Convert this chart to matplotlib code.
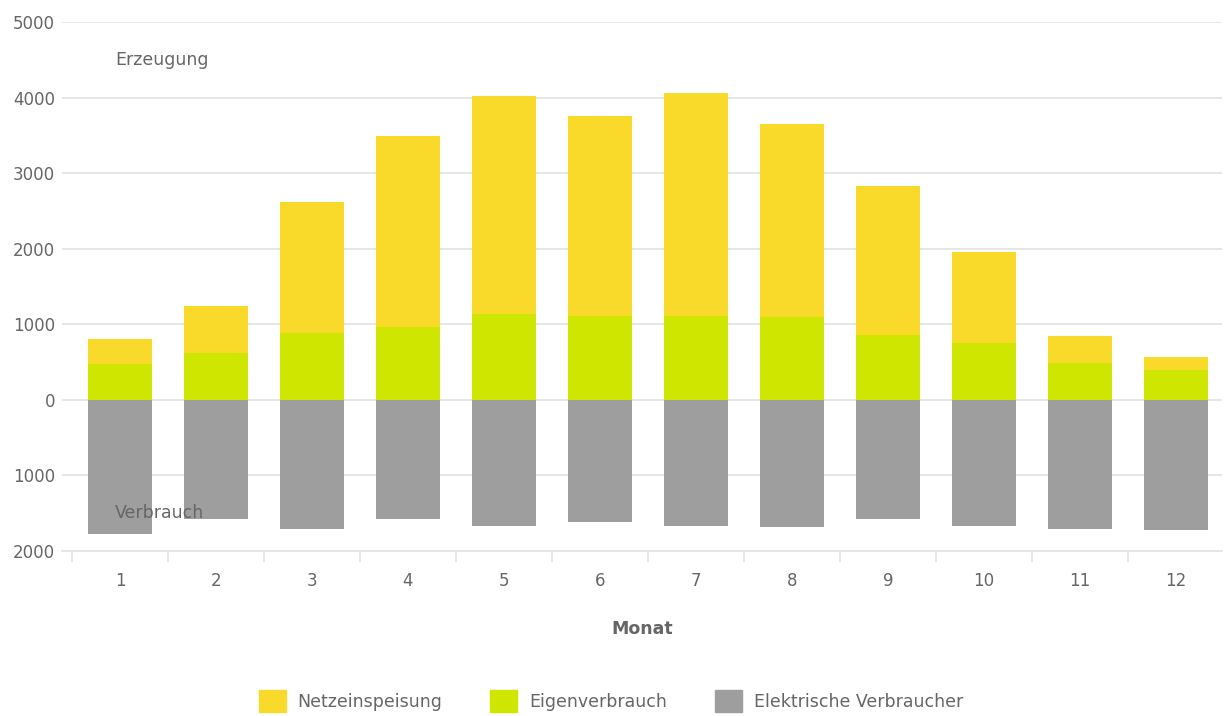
import numpy as np
import matplotlib.pyplot as plt
from matplotlib.ticker import FuncFormatter, FixedLocator
from matplotlib.patches import Patch

# Monthly energy values (kWh)
months = ['1', '2', '3', '4', '5', '6', '7', '8', '9', '10', '11', '12']
eigenverbrauch = [480, 625, 885, 965, 1135, 1115, 1115, 1090, 860, 755, 485, 395]
erzeugung_total = [800, 1245, 2615, 3490, 4025, 3755, 4060, 3650, 2835, 1960, 850, 570]
verbraucher = [1770, 1570, 1715, 1575, 1670, 1610, 1665, 1685, 1575, 1665, 1710, 1720]

netzeinspeisung = [t - e for t, e in zip(erzeugung_total, eigenverbrauch)]

c_netz = '#F9DA2B'
c_eigen = '#CEE600'
c_verb = '#9E9E9E'
txt = '#666666'
grid_c = '#E4E4E4'

plt.rcParams['font.family'] = ['DejaVu Sans']

fig = plt.figure(figsize=(12.26, 7.16), dpi=100)
ax = fig.add_axes([0.0506, 0.2304, 0.9461, 0.7389])

x = np.arange(len(months))
width = 0.67

ax.bar(x, [-v for v in verbraucher], width, color=c_verb, zorder=3)
ax.bar(x, eigenverbrauch, width, color=c_eigen, zorder=3)
ax.bar(x, netzeinspeisung, width, bottom=eigenverbrauch, color=c_netz, zorder=3)

ax.set_ylim(-2000, 5000)
ax.set_xlim(-0.5 - 10 / 96, 11.48)
ax.set_yticks(np.arange(-2000, 5001, 1000))
ax.yaxis.set_major_formatter(FuncFormatter(lambda v, p: f'{abs(int(v))}'))
ax.grid(axis='y', color=grid_c, linewidth=1.3, zorder=0)
ax.tick_params(axis='y', length=0, labelsize=12, labelcolor=txt, pad=5)

ax.set_xticks(x)
ax.set_xticklabels(months)
ax.xaxis.set_minor_locator(FixedLocator(np.arange(-0.5, 12, 1)))
ax.tick_params(axis='x', which='major', length=0, labelsize=12,
               labelcolor=txt, pad=15)
ax.tick_params(axis='x', which='minor', length=8, color=grid_c, width=1.3)

for s in ['top', 'right', 'left']:
    ax.spines[s].set_visible(False)
ax.spines['bottom'].set_color(grid_c)
ax.spines['bottom'].set_linewidth(1.3)

ax.text(-0.05, 4500, 'Erzeugung', color=txt, fontsize=12.5, va='center')
ax.text(-0.05, -1500, 'Verbrauch', color=txt, fontsize=12.5, va='center')

ax.set_xlabel('Monat', fontsize=12.5, fontweight='bold', color=txt, labelpad=22)

handles = [Patch(color=c_netz, label='Netzeinspeisung'),
           Patch(color=c_eigen, label='Eigenverbrauch'),
           Patch(color=c_verb, label='Elektrische Verbraucher')]
leg = fig.legend(handles=handles, loc='center', ncol=3,
                 bbox_to_anchor=(611 / 1226, 1 - 701 / 716), frameon=False,
                 fontsize=12.5, handlelength=1.55, handleheight=1.55,
                 columnspacing=2.75, handletextpad=0.7)
for t in leg.get_texts():
    t.set_color(txt)

plt.savefig('out.png', dpi=100)
